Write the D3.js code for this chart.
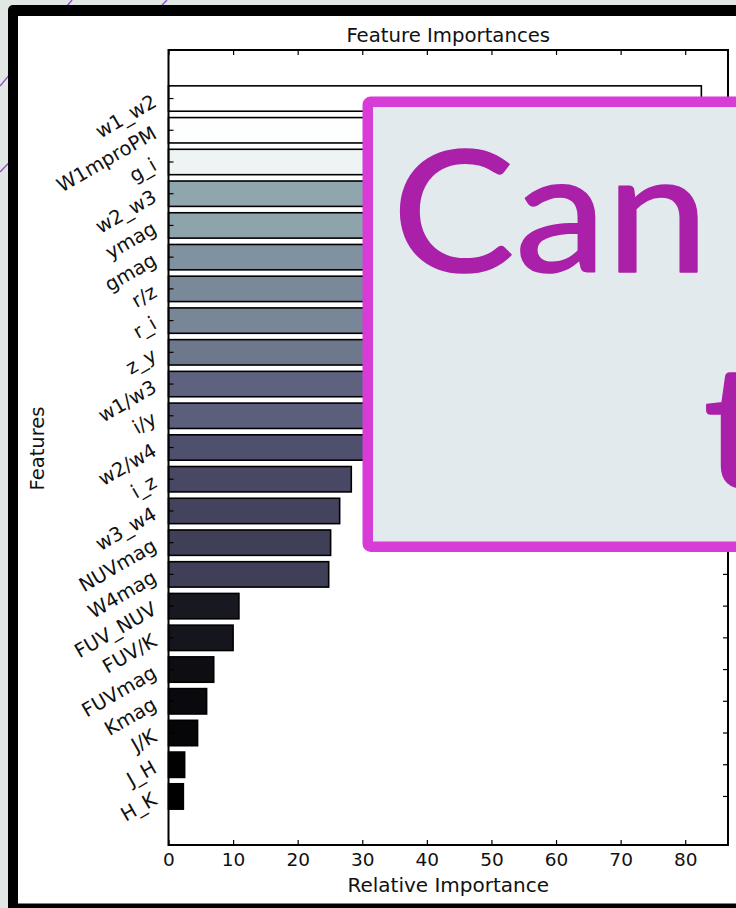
<!DOCTYPE html>
<html>
<head>
<meta charset="utf-8">
<script src="https://cdn.jsdelivr.net/npm/d3@7/dist/d3.min.js"></script>
<style>
  html, body { margin: 0; padding: 0; background: #e1e7e2; }
  svg { display: block; }
  text { font-family: "DejaVu Sans", sans-serif; fill: #111; }
  text.banner { font-family: Lato, sans-serif; font-size: 168px; fill: #aa20a8;
    stroke: #aa20a8; stroke-width: 1.6px; stroke-linejoin: round; }
</style>
</head>
<body>
<svg id="chart" width="736" height="908"></svg>
<script>
// Feature names, top (most important) to bottom
const features = ["w1_w2", "W1mproPM", "g_i", "w2_w3", "ymag", "gmag", "r/z", "r_i", "z_y",
  "w1/w3", "i/y", "w2/w4", "i_z", "w3_w4", "NUVmag", "W4mag", "FUV_NUV", "FUV/K",
  "FUVmag", "Kmag", "J/K", "J_H", "H_K"];

// Relative importance of each feature
const importance = [82.5, 82.0, 78.6, 53.6, 53.2, 48.3, 46.0, 45.6, 41.7, 36.0, 35.2, 30.8,
  28.3, 26.5, 25.1, 24.8, 10.9, 10.0, 7.0, 5.9, 4.5, 2.5, 2.3];

// Tick values on the importance axis
const xTicks = [0, 10, 20, 30, 40, 50, 60, 70, 80];

const titleText = "Feature Importances";
const xLabel = "Relative Importance";
const yLabel = "Features";
const bannerLine1 = "Can";
const bannerLine2 = "t";

(function draw() {
  const svg = d3.select("#chart");

  // page background and decorative diagonal strokes
  svg.append("rect").attr("width", 736).attr("height", 908).attr("fill", "#e1e7e2");
  const deco = svg.append("g").attr("stroke", "#9a48d2").attr("stroke-width", 1.4);
  deco.append("line").attr("x1", 0).attr("y1", 86).attr("x2", 72).attr("y2", 0);
  deco.append("line").attr("x1", 0).attr("y1", 172).attr("x2", 167).attr("y2", 0);

  // black slide frame with white inner panel
  svg.append("rect").attr("x", 8).attr("y", 5).attr("width", 820).attr("height", 940)
    .attr("rx", 5).attr("fill", "#000");
  svg.append("rect").attr("x", 18).attr("y", 16).attr("width", 810).attr("height", 887.5)
    .attr("fill", "#fff");

  // plot area
  const pLeft = 168.5, pRight = 728, pTop = 50, pBottom = 845;

  const x = d3.scaleLinear()
    .domain([0, d3.max(importance) * 1.05])
    .range([pLeft, pRight]);

  const y = d3.scaleBand()
    .domain(features)
    .range([pTop, pBottom])
    .paddingInner(0.2)
    .paddingOuter(1.13);

  // "bone" colormap, normalised over the value range
  const lo = d3.min(importance), hi = d3.max(importance);
  const rS = d3.scaleLinear().domain([0, 0.746032, 1]).range([0, 0.652778, 1]);
  const gS = d3.scaleLinear().domain([0, 0.365079, 0.746032, 1]).range([0, 0.319444, 0.777778, 1]);
  const bS = d3.scaleLinear().domain([0, 0.365079, 1]).range([0, 0.444444, 1]);
  const bone = v => {
    const t = (v - lo) / (hi - lo);
    return d3.rgb(rS(t) * 255, gS(t) * 255, bS(t) * 255).formatHex();
  };

  const data = features.map((f, i) => ({ f, v: importance[i] }));

  // bars
  svg.append("g")
    .selectAll("rect")
    .data(data)
    .join("rect")
    .attr("x", x(0))
    .attr("y", d => y(d.f))
    .attr("width", d => x(d.v) - x(0))
    .attr("height", y.bandwidth())
    .attr("fill", d => bone(d.v))
    .attr("stroke", "#000")
    .attr("stroke-width", 1.6);

  // axes with inward ticks on every side
  const styleAxis = g => {
    g.select(".domain").remove();
    g.selectAll(".tick line").attr("stroke", "#000").attr("stroke-width", 1.2);
    g.selectAll("text").style("font-family", "DejaVu Sans, sans-serif").attr("fill", "#111");
  };

  svg.append("g")
    .attr("transform", `translate(0,${pBottom})`)
    .call(d3.axisBottom(x).tickValues(xTicks).tickSizeInner(-5).tickSizeOuter(0).tickPadding(8))
    .call(styleAxis)
    .call(g => g.selectAll("text").style("font-size", "18.5px"));

  svg.append("g")
    .attr("transform", `translate(0,${pTop})`)
    .call(d3.axisTop(x).tickValues(xTicks).tickSizeInner(-5).tickSizeOuter(0).tickFormat(""))
    .call(styleAxis);

  svg.append("g")
    .attr("transform", `translate(${pLeft},0)`)
    .call(d3.axisLeft(y).tickSizeInner(-5).tickSizeOuter(0).tickFormat(""))
    .call(styleAxis);

  svg.append("g")
    .attr("transform", `translate(${pRight},0)`)
    .call(d3.axisRight(y).tickSizeInner(-5).tickSizeOuter(0).tickFormat(""))
    .call(styleAxis);

  // rotated feature labels
  svg.append("g")
    .selectAll("text")
    .data(features)
    .join("text")
    .attr("transform", f => `translate(158,${y(f) + y.bandwidth() / 2 + 7}) rotate(-30)`)
    .attr("text-anchor", "end")
    .style("font-size", "19.5px")
    .text(f => f);

  // frame of the plot area
  svg.append("rect")
    .attr("x", pLeft).attr("y", pTop)
    .attr("width", pRight - pLeft).attr("height", pBottom - pTop)
    .attr("fill", "none").attr("stroke", "#000").attr("stroke-width", 2);

  // titles
  svg.append("text").attr("x", (pLeft + pRight) / 2).attr("y", 42)
    .attr("text-anchor", "middle").style("font-size", "19.7px").text(titleText);
  svg.append("text").attr("x", (pLeft + pRight) / 2).attr("y", 892)
    .attr("text-anchor", "middle").style("font-size", "20px").text(xLabel);
  svg.append("text").attr("transform", `translate(44,${(pTop + pBottom) / 2 + 1}) rotate(-90)`)
    .attr("text-anchor", "middle").style("font-size", "19.5px").text(yLabel);

  // banner panel laid over the chart
  svg.append("rect")
    .attr("x", 367.75).attr("y", 101.75)
    .attr("width", 520).attr("height", 445)
    .attr("rx", 3)
    .attr("fill", "#e2eaed")
    .attr("stroke", "#d83cd6")
    .attr("stroke-width", 10.5);

  svg.append("text").attr("class", "banner")
    .attr("transform", "translate(392,272) scale(1.095,1)")
    .text(bannerLine1);
  svg.append("text").attr("class", "banner")
    .attr("transform", "translate(703,487) scale(1.095,1)")
    .text(bannerLine2);
})();
</script>
</body>
</html>
